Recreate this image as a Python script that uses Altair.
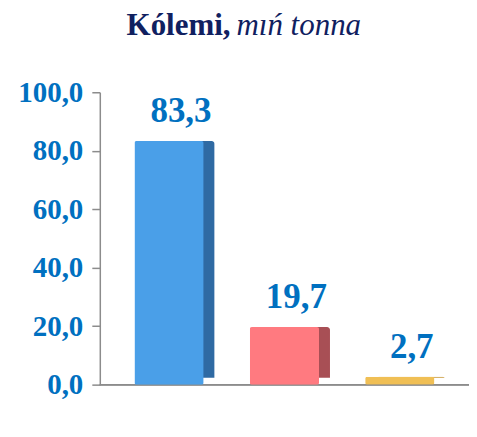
import altair as alt
import pandas as pd

categories = ["A", "B", "C"]
values = [83.3, 19.7, 2.7]
labels = ["83,3", "19,7", "2,7"]
front_colors = ["#4a9fe8", "#ff7a80", "#f0bf55"]
side_colors = ["#2f6aa3", "#a84f55", "#c9983a"]

SERIF = "'Liberation Serif', 'Times New Roman', Times, serif"

df = pd.DataFrame({"cat": categories, "val": values, "lab": labels,
                   "front": front_colors, "side": side_colors})

x = alt.X("cat:N", sort=categories, axis=None,
          scale=alt.Scale(paddingInner=0.4, paddingOuter=0.3))
y = alt.Y("val:Q", scale=alt.Scale(domain=[0, 100]),
          axis=alt.Axis(values=[0, 20, 40, 60, 80, 100], title=None, grid=False,
                        labelExpr="replace(format(datum.value, '.1f'), '.', ',')",
                        labelFont=SERIF, labelFontWeight="bold",
                        labelFontSize=29, labelColor="#0070c0", labelPadding=9,
                        tickColor="#8c8c8c", tickSize=8, domainColor="#8c8c8c",
                        domainWidth=1.5, tickWidth=1.5))

base = alt.Chart(df)

side = base.mark_bar(xOffset=11, yOffset=-7, cornerRadius=3).encode(
    x=x, y=y, color=alt.Color("side:N", scale=None))
front = base.mark_bar(cornerRadius=2).encode(
    x=x, y=y, color=alt.Color("front:N", scale=None))
text = base.mark_text(dy=-30, dx=12, font=SERIF, fontWeight="bold",
                      fontSize=35, color="#0070c0").encode(x=x, y=y, text="lab:N")
floor = base.mark_rule(color="#8c8c8c", strokeWidth=1.5).encode(
    x=alt.value(0), x2=alt.value(370), y=alt.value(293))

t1 = alt.Chart(pd.DataFrame({"t": ["Kólemi,"]})).mark_text(
    font=SERIF, fontWeight="bold", fontSize=31, color="#102060",
    align="right").encode(x=alt.value(131), y=alt.value(-66), text="t:N")
t2 = alt.Chart(pd.DataFrame({"t": ["mıń tonna"]})).mark_text(
    font=SERIF, fontStyle="italic", fontSize=31, color="#102060",
    align="left").encode(x=alt.value(137), y=alt.value(-66), text="t:N")

chart = alt.layer(floor, side, front, text, t1, t2).properties(
    width=370, height=293,
    autosize=alt.AutoSizeParams(type="none"),
    padding={"left": 92, "top": 84, "right": 0, "bottom": 40}
).configure(background="white").configure_view(stroke=None)

chart.save("out.html", embed_options={"renderer": "svg", "actions": False})
